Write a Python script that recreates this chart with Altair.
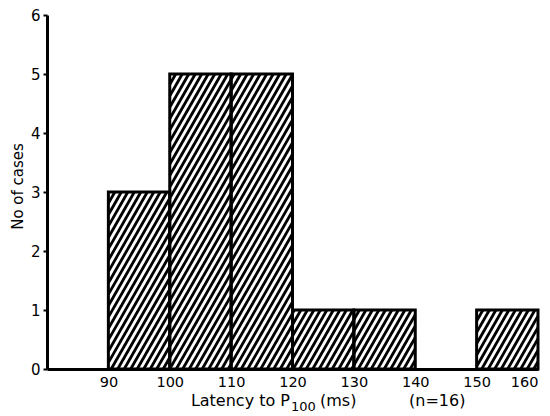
import altair as alt
import pandas as pd
import numpy as np

# Histogram data
bin_start = [90, 100, 110, 120, 130, 150]
bin_end = [100, 110, 120, 130, 140, 160]
counts = [3, 5, 5, 1, 1, 1]

y_ticks = [0, 1, 2, 3, 4, 5, 6]
x_ticks = [90, 100, 110, 120, 130, 140, 150, 160]

W, H = 491, 354
XMIN, XMAX, YMIN, YMAX = 80, 160, 0, 6
sx = W / (XMAX - XMIN)
sy = H / (YMAX - YMIN)

bars = pd.DataFrame({"start": bin_start, "end": bin_end, "count": counts})

# hatch lines (///) clipped to each bar, built from the bar data
slope_px = 1.75
k = (sy / slope_px) / sx          # x-units per y-unit along a hatch line
step = 6.5 / sx                   # horizontal hatch period in x-units
rows = []
cs = np.arange(XMIN - k * YMAX - step, XMAX + step, step)
for x0, x1, h in zip(bin_start, bin_end, counts):
    for c in cs:
        ylo = max(0.0, (x0 - c) / k)
        yhi = min(float(h), (x1 - c) / k)
        if yhi > ylo:
            rows.append({"x": c + k * ylo, "y": ylo, "x2": c + k * yhi, "y2": yhi})
hatch = pd.DataFrame(rows)

xs = alt.Scale(domain=[XMIN, XMAX], nice=False, zero=False)
ys = alt.Scale(domain=[YMIN, YMAX], nice=False)

FONT = "DejaVu Sans"

hatch_layer = alt.Chart(hatch).mark_rule(color="black", strokeWidth=2.8, clip=True).encode(
    x=alt.X("x:Q", scale=xs, axis=alt.Axis(values=x_ticks, title=None, tickSize=0,
                                            labelPadding=6, labelFontSize=14.5,
                                            labelFont=FONT, labelColor="black",
                                            domainColor="black", domainWidth=3,
                                            grid=False, format="d")),
    x2="x2:Q",
    y=alt.Y("y:Q", scale=ys, axis=alt.Axis(values=y_ticks, title="No of cases",
                                            tickSize=4, tickWidth=2, tickColor="black",
                                            labelPadding=3, labelFontSize=15,
                                            labelFont=FONT, labelColor="black",
                                            domainColor="black", domainWidth=3,
                                            grid=False, format="d", titleFont=FONT,
                                            titleFontSize=15, titleFontWeight="normal",
                                            titleColor="black", titleX=-30, titleY=171,
                                            titleAngle=-90, titleAlign="center",
                                            titleBaseline="middle")),
    y2="y2:Q",
)

bar_layer = alt.Chart(bars).mark_rect(fill=None, stroke="black", strokeWidth=3).encode(
    x=alt.X("start:Q", scale=xs),
    x2="end:Q",
    y=alt.Y("count:Q", scale=ys),
    y2=alt.datum(0),
)

t1 = alt.Chart(pd.DataFrame({"t": ["Latency to P"]})).mark_text(
    font=FONT, fontSize=16, align="right", baseline="alphabetic", color="black").encode(
    x=alt.value(243), y=alt.value(391), text="t:N")
t2 = alt.Chart(pd.DataFrame({"t": ["100"]})).mark_text(
    font=FONT, fontSize=13, align="left", baseline="alphabetic", color="black").encode(
    x=alt.value(244), y=alt.value(396), text="t:N")
t3 = alt.Chart(pd.DataFrame({"t": ["(ms)"]})).mark_text(
    font=FONT, fontSize=16, align="left", baseline="alphabetic", color="black").encode(
    x=alt.value(273), y=alt.value(391), text="t:N")
t4 = alt.Chart(pd.DataFrame({"t": ["(n=16)"]})).mark_text(
    font=FONT, fontSize=16, align="left", baseline="alphabetic", color="black").encode(
    x=alt.value(362), y=alt.value(391), text="t:N")

chart = alt.layer(hatch_layer, bar_layer, t1, t2, t3, t4).properties(
    width=W, height=H,
    autosize=alt.AutoSizeParams(type="none"),
    padding={"left": 47, "top": 15, "right": 12, "bottom": 47},
    background="white",
).configure_view(stroke=None)

chart.save("out.html", embed_options={"renderer": "svg", "actions": False})
